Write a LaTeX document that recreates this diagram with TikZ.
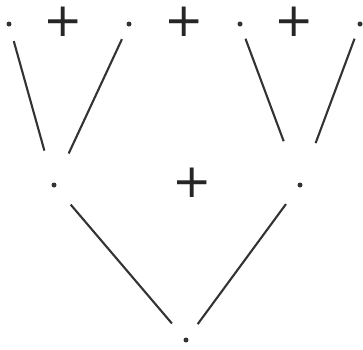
\documentclass[tikz,border=0pt]{standalone}
\usepackage{fontspec}
\usepackage{tikz}
\newfontfamily\plusfont{DejaVu Sans}

\begin{document}
\begin{tikzpicture}[x=1pt, y=-1pt,
  pt/.style={circle, fill=black!80, inner sep=0pt, minimum size=5pt},
  plus/.style={font=\fontsize{47}{47}\selectfont\plusfont, text=black!85, inner sep=0pt},
  br/.style={draw=black!80, line width=2.1pt}]
\useasboundingbox (0,0) rectangle (363,349);

\node[pt] (l1) at (9,24) {};
\node[pt] (l2) at (129,24) {};
\node[pt] (r1) at (240,24) {};
\node[pt] (r2) at (360,24) {};
\node[pt] (ml) at (54,185) {};
\node[pt] (mr) at (300,185) {};
\node[pt] (root) at (186,340) {};

\node[plus] (p1) at (63,22) {+};
\node[plus] (p2) at (184,22) {+};
\node[plus] (p3) at (294,22) {+};
\node[plus] (pm) at (192,183) {+};

\draw[br, shorten <=15pt, shorten >=33pt] (l1) -- (ml);
\draw[br, shorten <=14pt, shorten >=32pt] (l2) -- (ml);
\draw[br, shorten <=13pt, shorten >=44pt] (r1) -- (mr);
\draw[br, shorten <=13pt, shorten >=42pt] (r2) -- (mr);
\draw[br, shorten <=23pt, shorten >=19pt] (ml) -- (root);
\draw[br, shorten <=21pt, shorten >=17pt] (mr) -- (root);
\end{tikzpicture}
\end{document}
